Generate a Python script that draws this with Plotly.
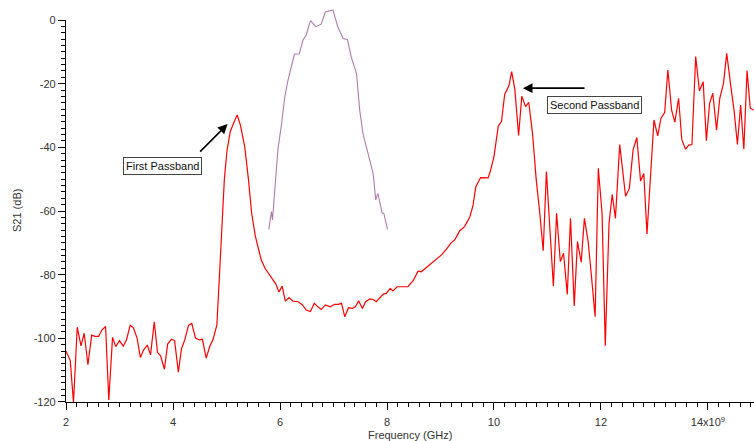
import plotly.graph_objects as go

# Red trace: measured S21 (frequency in GHz, S21 in dB)
freq_ghz = [
    2.00, 2.08, 2.14, 2.21, 2.28, 2.34, 2.41, 2.48, 2.54, 2.61, 2.67, 2.74, 2.80, 2.87, 2.93,
    3.00, 3.07, 3.13, 3.20, 3.26, 3.33, 3.39, 3.45, 3.52, 3.58, 3.65, 3.71, 3.77, 3.84, 3.90,
    3.97, 4.03, 4.10, 4.16, 4.22, 4.29, 4.35, 4.42, 4.49, 4.55, 4.62, 4.69, 4.75, 4.82, 4.90,
    4.96, 5.01, 5.07, 5.13, 5.20, 5.26, 5.34, 5.41, 5.47, 5.54, 5.60, 5.65, 5.72, 5.77, 5.86,
    5.92, 5.98, 6.04, 6.10, 6.17, 6.24, 6.34, 6.42, 6.49, 6.57, 6.64, 6.71, 6.77, 6.85, 6.94,
    7.02, 7.09, 7.15, 7.21, 7.28, 7.35, 7.41, 7.47, 7.54, 7.60, 7.68, 7.74, 7.80, 7.86, 7.93,
    7.99, 8.06, 8.11, 8.19, 8.27, 8.39, 8.49, 8.58, 8.64, 8.74, 8.83, 8.92, 9.02, 9.11, 9.20,
    9.27, 9.36, 9.45, 9.55, 9.61, 9.66, 9.75, 9.89, 9.93, 10.00, 10.08, 10.14, 10.20, 10.28, 10.33,
    10.39, 10.46, 10.52, 10.59, 10.65, 10.72, 10.79, 10.85, 10.92, 10.98, 11.11, 11.17, 11.24, 11.30, 11.37,
    11.43, 11.50, 11.56, 11.63, 11.69, 11.76, 11.82, 11.89, 11.95, 12.02, 12.08, 12.15, 12.21, 12.27, 12.35,
    12.46, 12.53, 12.60, 12.67, 12.74, 12.80, 12.86, 12.99, 13.06, 13.12, 13.19, 13.25, 13.32, 13.38, 13.45,
    13.51, 13.58, 13.64, 13.70, 13.77, 13.84, 13.91, 13.97, 14.03, 14.09, 14.16, 14.22, 14.29, 14.35, 14.42,
    14.49, 14.55, 14.61, 14.67, 14.73, 14.79, 14.85,
]
s21_db = [
    -104.0, -107.0, -120.2, -96.5, -102.4, -98.4, -108.3, -99.0, -99.4, -99.4, -97.4, -96.3, -119.4, -99.7, -102.6,
    -100.7, -102.4, -100.5, -95.9, -96.7, -100.0, -106.0, -103.7, -102.1, -105.2, -94.8, -104.4, -105.6, -109.7, -101.8,
    -100.3, -100.7, -110.6, -103.2, -100.5, -95.9, -95.3, -99.9, -100.5, -100.3, -106.2, -102.4, -100.3, -95.8, -70.0,
    -50.0, -41.0, -35.1, -32.5, -29.8, -33.0, -39.8, -50.0, -60.7, -68.0, -72.0, -75.4, -78.0, -79.3, -81.7,
    -82.9, -85.4, -83.6, -88.3, -87.2, -88.3, -88.5, -89.5, -91.1, -91.6, -89.0, -90.1, -90.9, -89.5, -90.1,
    -89.3, -89.3, -89.0, -93.2, -90.4, -90.6, -90.1, -88.2, -90.6, -88.5, -87.6, -87.8, -88.5, -87.4, -86.1,
    -85.9, -84.3, -85.1, -83.8, -83.8, -83.8, -81.9, -78.9, -79.1, -77.7, -76.2, -74.9, -73.8, -72.0, -70.0,
    -69.0, -66.2, -64.9, -61.8, -58.1, -52.4, -49.5, -49.6, -47.6, -42.9, -33.3, -31.9, -23.4, -20.6, -16.2,
    -21.8, -36.3, -23.9, -27.2, -25.9, -35.6, -50.3, -59.7, -72.5, -47.6, -83.6, -60.7, -75.9, -73.3, -86.2,
    -62.3, -89.8, -69.6, -76.1, -62.3, -69.6, -80.1, -93.2, -46.6, -60.7, -102.3, -63.9, -54.8, -62.3, -39.1,
    -55.4, -52.9, -40.8, -36.9, -50.6, -48.2, -67.2, -31.4, -36.4, -30.9, -29.1, -15.7, -28.3, -32.1, -24.6,
    -37.5, -40.6, -39.3, -39.1, -11.5, -22.3, -19.4, -37.9, -26.2, -23.0, -34.6, -24.6, -19.9, -10.5, -19.9,
    -28.8, -39.1, -26.7, -40.6, -15.9, -27.7, -28.3,
]

# Purple trace: overlaid passband response (GHz, dB)
ref_freq_ghz = [
    5.79, 5.84, 5.86, 5.90, 5.96, 6.03, 6.09, 6.15, 6.21, 6.27, 6.36, 6.43, 6.49, 6.57, 6.67,
    6.77, 6.85, 6.93, 6.99, 7.08, 7.18, 7.26, 7.33, 7.43, 7.49, 7.55, 7.64, 7.71, 7.74, 7.79,
    7.83, 7.91, 7.94, 8.01,
]
ref_db = [
    -65.8, -60.2, -62.8, -54.5, -40.8, -32.5, -24.1, -18.9, -15.2, -10.7, -10.7, -6.3, -4.7, -0.2, -2.1,
    -1.3, 2.6, 2.8, 3.1, -2.1, -5.8, -6.1, -11.5, -16.8, -28.3, -35.6, -41.9, -46.1, -48.2, -56.5,
    -54.5, -60.7, -60.7, -65.8,
]

x_tickvals = [2, 4, 6, 8, 10, 12, 14]
x_ticktext = ["2", "4", "6", "8", "10", "12", "14x10<sup>9</sup>"]
x_midticks = [3, 5, 7, 9, 11, 13]
y_tickvals = [0, -20, -40, -60, -80, -100, -120]
y_ticktext = ["0", "-20", "-40", "-60", "-80", "-100", "-120"]
y_midticks = [-10, -30, -50, -70, -90, -110]

X_RANGE = [2, 14.86]
Y_RANGE = [-120, 0]
Y_TOP_FRAC = 0.9622
Y2_RANGE = [-120, -120 + 120 / Y_TOP_FRAC]

FONT = "Liberation Sans, Arial, sans-serif"
TXT = "#333333"

fig = go.Figure()
fig.add_trace(go.Scatter(x=ref_freq_ghz, y=ref_db, mode="lines", yaxis="y2",
                         line=dict(color="rgba(150,80,150,0.75)", width=1.1),
                         showlegend=False, hoverinfo="skip"))
fig.add_trace(go.Scatter(x=freq_ghz, y=s21_db, mode="lines",
                         line=dict(color="#ff0000", width=1.2),
                         showlegend=False))

axis_common = dict(showgrid=False, zeroline=False, ticks="outside", automargin=False,
                   tickcolor="#000", tickwidth=1, linecolor="#000", linewidth=1.2,
                   tickfont=dict(family=FONT, size=11, color=TXT))

fig.update_layout(
    width=754, height=441,
    margin=dict(l=66, r=0, t=5, b=39),
    paper_bgcolor="white", plot_bgcolor="rgba(0,0,0,0)",
    font=dict(family=FONT, size=11, color=TXT),
    xaxis=dict(range=X_RANGE, tickvals=x_tickvals, ticktext=x_ticktext, ticklen=7,
               showline=True, anchor="y", ticklabelstandoff=3,
               minor=dict(dtick=0.2, tick0=2, ticklen=4, ticks="outside", tickcolor="#000"),
               **axis_common),
    yaxis=dict(range=Y_RANGE, domain=[0, Y_TOP_FRAC], tickvals=y_tickvals,
               ticktext=y_ticktext, ticklen=7, showline=True, anchor="x",
               minor=dict(dtick=2, tick0=0, ticklen=4, ticks="outside", tickcolor="#000"),
               **axis_common),
    yaxis2=dict(range=Y2_RANGE, domain=[0, 1], anchor="x", visible=False, automargin=False),
    xaxis2=dict(range=X_RANGE, overlaying="x", anchor="y", tickvals=x_midticks, ticklen=6,
                showticklabels=False, showgrid=False, zeroline=False, showline=False,
                ticks="outside", tickcolor="#000", automargin=False),
    yaxis3=dict(range=Y_RANGE, overlaying="y", anchor="x", tickvals=y_midticks, ticklen=6,
                showticklabels=False, showgrid=False, zeroline=False, showline=False,
                ticks="outside", tickcolor="#000", automargin=False),
)

# Axis titles
fig.add_annotation(xref="paper", yref="paper", x=0.5, y=0, yshift=-33,
                   text="Frequency (GHz)", showarrow=False, yanchor="middle",
                   font=dict(family=FONT, size=11, color=TXT))
fig.add_annotation(xref="paper", yref="y", x=0, xshift=-49, y=-60,
                   xanchor="center", yanchor="middle",
                   text="S21 (dB)", showarrow=False, textangle=-90,
                   font=dict(family=FONT, size=11, color=TXT))

# Passband labels
fig.add_annotation(x=3.81, y=-45.9, text="First Passband", showarrow=False,
                   bordercolor="#444", borderwidth=1, borderpad=2, bgcolor="white",
                   font=dict(family=FONT, size=11, color="#111"))
fig.add_annotation(x=11.88, y=-26.7, text="Second Passband", showarrow=False,
                   bordercolor="#444", borderwidth=1, borderpad=2, bgcolor="white",
                   font=dict(family=FONT, size=11, color="#111"))
# Arrows
fig.add_annotation(x=5.02, y=-32.7, ax=4.48, ay=-41.8, axref="x", ayref="y",
                   text="", showarrow=True, arrowhead=2, arrowsize=1.2,
                   arrowwidth=1.6, arrowcolor="#000", standoff=0)
fig.add_annotation(x=10.54, y=-21.4, ax=11.72, ay=-21.4, axref="x", ayref="y",
                   text="", showarrow=True, arrowhead=2, arrowsize=1.2,
                   arrowwidth=1.6, arrowcolor="#000", standoff=0)

fig.write_html("out.html", config={"displayModeBar": False},
               post_script="document.body.style.margin='0px';")
